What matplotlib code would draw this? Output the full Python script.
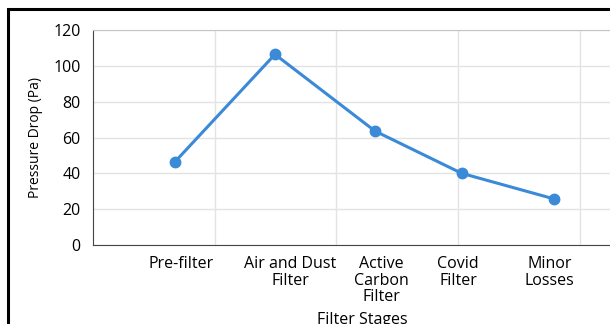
import matplotlib.pyplot as plt
from matplotlib.patches import Rectangle

plt.rcParams['font.family'] = ['Open Sans', 'DejaVu Sans']

# data
stages = ['Pre-filter', 'Air and Dust\nFilter', 'Active\nCarbon\nFilter', 'Covid\nFilter', 'Minor\nLosses']
label_pos = [0.72, 1.62, 2.37, 3.0, 3.75]     # where the stage labels sit
point_pos = [0.67, 1.495, 2.317, 3.03, 3.79]  # where the markers sit
pressure_drop = [46.2, 106.4, 63.6, 40.0, 25.7]
y_ticks = [0, 20, 40, 60, 80, 100, 120]

fig = plt.figure(figsize=(6.1, 3.24), dpi=100)
ax = fig.add_axes([0.1525, 0.2438, 0.9975, 0.6636])

ax.plot(point_pos, pressure_drop, color='#3a8ad8', linewidth=2.2,
        marker='o', markersize=7.5, zorder=3)

ax.set_xlim(0, 5)
ax.set_ylim(0, 120)
ax.set_yticks(y_ticks)
ax.set_xticks([1, 2, 3, 4])
ax.set_xticklabels([])
ax.xaxis.remove_overlapping_locs = False
ax.set_xticks(label_pos, labels=stages, minor=True)
for lbl in ax.get_xticklabels(minor=True):
    lbl.set_linespacing(1.05)
ax.tick_params(axis='x', which='both', length=0)
ax.tick_params(axis='x', which='minor', pad=8, labelsize=11.5)
ax.tick_params(axis='y', length=0, pad=9, labelsize=11.5)

ax.grid(True, which='major', color='#e3e3e3', linewidth=1)
ax.set_axisbelow(True)

ax.spines['left'].set_color('#444444')
ax.spines['bottom'].set_color('#444444')
ax.spines['top'].set_color('#c4c4c4')
ax.spines['right'].set_visible(False)

ax.set_xlabel('Filter Stages', fontsize=11.5)
ax.set_ylabel('Pressure Drop (Pa)', fontsize=10, labelpad=7)
ax.xaxis.set_label_coords((362 - 93) / 607.5, -0.31)

# outer black frame, cut off on the right and bottom like the original
fig.patches.append(Rectangle((8 / 610, -0.2), 1.2, (324 - 9) / 324 + 0.2,
                             transform=fig.transFigure, fill=False,
                             edgecolor='black', linewidth=2.2))

fig.savefig('out.png', dpi=100)
